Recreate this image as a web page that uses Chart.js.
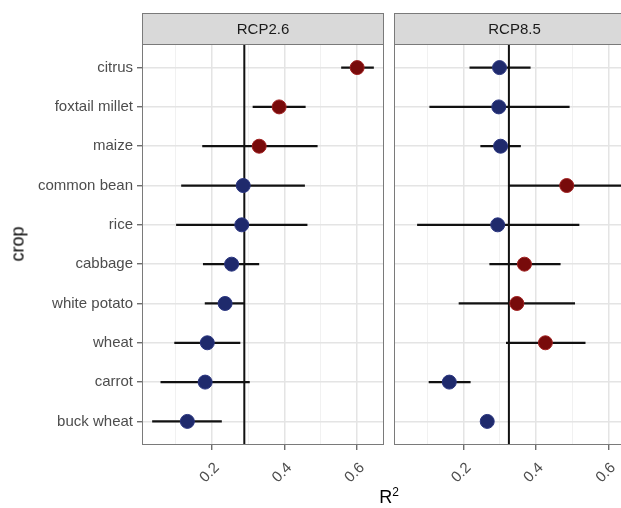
<!DOCTYPE html>
<html>
<head>
<meta charset="utf-8">
<script src="https://cdn.jsdelivr.net/npm/chart.js"></script>
<style>
  html, body { margin: 0; padding: 0; background: #fff; }
  body { width: 621px; height: 508px; overflow: hidden; position: relative; font-family: "Liberation Sans", Arial, sans-serif; }
  canvas { position: absolute; top: 0; }
  #chartA { left: 0; }
  #chartB { left: 384px; }
  .axtitle { position: absolute; color: #000; font-size: 18px; font-weight: normal; white-space: nowrap; }
  #ytitle { left: 18px; top: 244px; transform: translate(-50%, -50%) rotate(-90deg); }
  #xtitle { left: 389px; top: 496px; transform: translate(-50%, -50%); }
  #xtitle sup { font-size: 12px; }
</style>
</head>
<body>
<canvas id="chartA" width="392" height="508"></canvas>
<canvas id="chartB" width="260" height="508"></canvas>
<div class="axtitle" id="ytitle">crop</div>
<div class="axtitle" id="xtitle">R<sup>2</sup></div>
<script>
// crops, top to bottom
const crops = ['citrus', 'foxtail millet', 'maize', 'common bean', 'rice', 'cabbage', 'white potato', 'wheat', 'carrot', 'buck wheat'];
const panels = ['RCP2.6', 'RCP8.5'];
const refLine = [0.289, 0.325];

const rcp26Mean = [0.600, 0.385, 0.330, 0.286, 0.282, 0.254, 0.236, 0.187, 0.181, 0.132];
const rcp26Low  = [0.556, 0.312, 0.173, 0.115, 0.101, 0.175, 0.180, 0.096, 0.058, 0.035];
const rcp26High = [0.646, 0.458, 0.491, 0.456, 0.463, 0.330, 0.289, 0.278, 0.304, 0.227];

const rcp85Mean = [0.299, 0.297, 0.302, 0.485, 0.294, 0.368, 0.347, 0.426, 0.160, 0.265];
const rcp85Low  = [0.216, 0.105, 0.246, 0.325, 0.071, 0.271, 0.186, 0.317, 0.103, 0.260];
const rcp85High = [0.385, 0.493, 0.358, 0.700, 0.520, 0.468, 0.508, 0.537, 0.219, 0.270];

const xTicks = [0.1, 0.2, 0.3, 0.4, 0.5, 0.6];
const xMajor = [0.2, 0.4, 0.6];

const RED = '#780b0b';
const BLUE = '#1f2a6c';
const FONT = '"Liberation Sans", Arial, sans-serif';

function isMajor(v) {
    return xMajor.some(m => Math.abs(m - v) < 1e-6);
}

// grey strip on top + panel frame
const facetPlugin = {
    id: 'facet',
    afterDatasetsDraw(chart, args, opts) {
        const a = chart.chartArea;
        const ctx = chart.ctx;
        ctx.save();
        ctx.strokeStyle = '#7a7a7a';
        ctx.lineWidth = 1;
        ctx.strokeRect(a.left + 0.5, a.top + 0.5, a.right - a.left - 1, a.bottom - a.top - 1);
        ctx.fillStyle = '#d9d9d9';
        ctx.fillRect(a.left, 13, a.right - a.left, a.top - 13);
        ctx.strokeRect(a.left + 0.5, 13.5, a.right - a.left - 1, a.top - 13);
        ctx.fillStyle = '#1a1a1a';
        ctx.font = '15px ' + FONT;
        ctx.textAlign = 'center';
        ctx.textBaseline = 'middle';
        ctx.fillText(opts.label, (a.left + a.right) / 2, (13 + a.top) / 2 + 1);
        ctx.restore();
    }
};

function makeChart(id, p, mean, low, high, showY) {
    const points = mean.map((v, i) => ({ x: v, y: i }));
    const datasets = [{
        type: 'scatter',
        data: points,
        pointRadius: 7,
        pointHoverRadius: 7,
        pointBackgroundColor: mean.map(v => v > refLine[p] ? RED : BLUE),
        pointBorderColor: mean.map(v => v > refLine[p] ? '#a02020' : '#2a3580'),
        pointBorderWidth: 1,
        order: 0
    }];
    crops.forEach((c, i) => {
        datasets.push({
            type: 'scatter',
            data: [{ x: low[i], y: i }, { x: high[i], y: i }],
            showLine: true,
            borderColor: '#111',
            borderWidth: 2.2,
            pointRadius: 0,
            order: 1
        });
    });
    datasets.push({
        type: 'scatter',
        data: [{ x: refLine[p], y: -0.6 }, { x: refLine[p], y: 9.6 }],
        showLine: true,
        borderColor: '#111',
        borderWidth: 2,
        pointRadius: 0,
        order: 2
    });

    return new Chart(document.getElementById(id), {
        type: 'scatter',
        data: { datasets: datasets },
        plugins: [facetPlugin],
        options: {
            responsive: false,
            animation: false,
            events: [],
            layout: { padding: { top: 44, right: showY ? 8 : 9, left: 0, bottom: 0 } },
            plugins: {
                legend: { display: false },
                tooltip: { enabled: false },
                facet: { label: panels[p] }
            },
            scales: {
                x: {
                    type: 'linear',
                    min: 0.007,
                    max: 0.674,
                    afterBuildTicks: s => { s.ticks = xTicks.map(v => ({ value: v })); },
                    afterFit: s => { s.height = 63; },
                    border: { display: false },
                    grid: {
                        color: c => isMajor(c.tick.value) ? '#e4e4e4' : '#f1f1f1',
                        lineWidth: c => isMajor(c.tick.value) ? 1.5 : 1,
                        tickColor: c => isMajor(c.tick.value) ? '#555' : 'rgba(0,0,0,0)',
                        tickLength: 5,
                        tickWidth: 1.2
                    },
                    ticks: {
                        autoSkip: false,
                        minRotation: 45,
                        maxRotation: 45,
                        padding: 9,
                        labelOffset: 5,
                        color: '#4d4d4d',
                        font: { size: 15, family: FONT },
                        callback: v => isMajor(v) ? v.toFixed(1) : ''
                    }
                },
                y: {
                    type: 'linear',
                    min: -0.6,
                    max: 9.6,
                    reverse: true,
                    afterBuildTicks: s => { s.ticks = crops.map((c, i) => ({ value: i })); },
                    afterFit: s => { s.width = showY ? 142 : 10; },
                    border: { display: false },
                    grid: {
                        color: '#e4e4e4',
                        lineWidth: 1.5,
                        drawTicks: showY,
                        tickColor: '#555',
                        tickLength: 5,
                        tickWidth: 1.2
                    },
                    ticks: {
                        display: showY,
                        padding: 4,
                        color: '#4d4d4d',
                        font: { size: 15, family: FONT },
                        callback: v => crops[v]
                    }
                }
            }
        }
    });
}

makeChart('chartA', 0, rcp26Mean, rcp26Low, rcp26High, true);
makeChart('chartB', 1, rcp85Mean, rcp85Low, rcp85High, false);
</script>
</body>
</html>
